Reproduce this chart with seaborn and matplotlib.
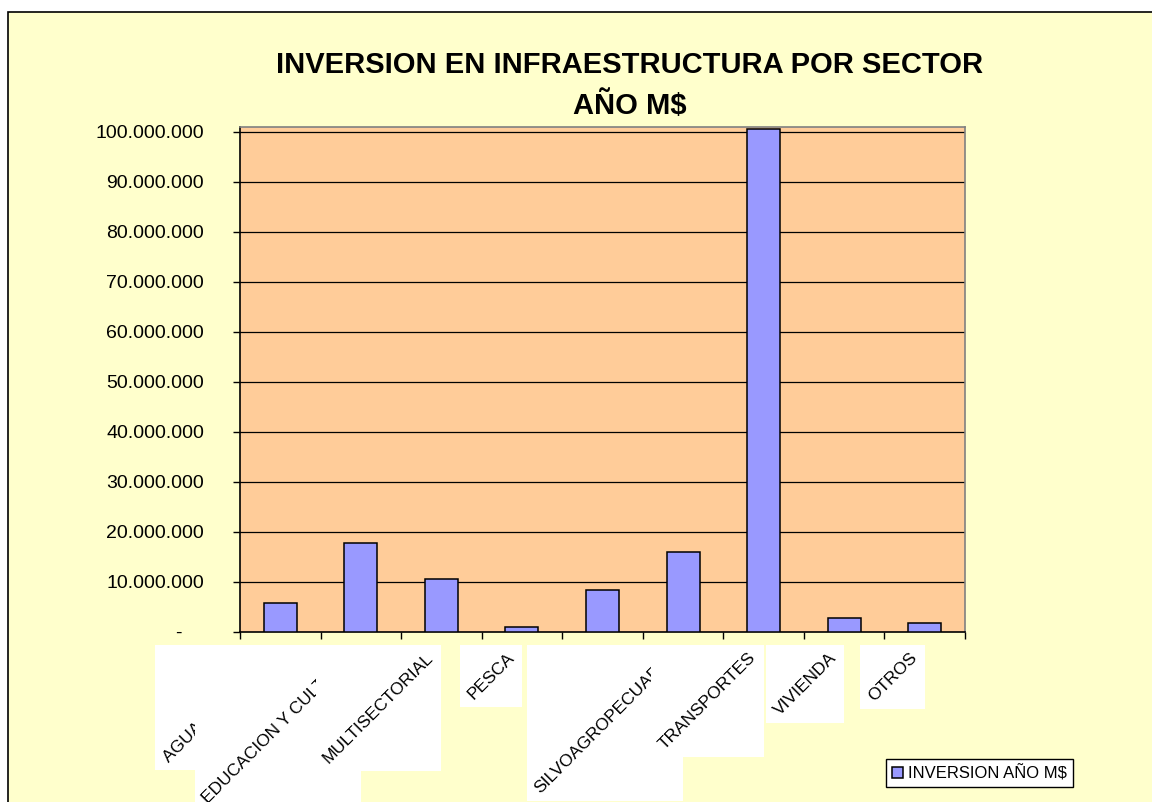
import numpy as np
import pandas as pd
import matplotlib
matplotlib.use('Agg')
import matplotlib.pyplot as plt
import seaborn as sns
from matplotlib.patches import Rectangle
from matplotlib.ticker import FuncFormatter
from matplotlib.transforms import IdentityTransform

# datos (M$)
sectores = ['AGUA POTABLE Y', 'EDUCACION Y CULTURA', 'MULTISECTORIAL', 'PESCA', '',
            'SILVOAGROPECUARIO', 'TRANSPORTES', 'VIVIENDA', 'OTROS']
inversion = [5800000, 17900000, 10600000, 1100000, 8400000,
             16100000, 100600000, 2900000, 1800000]
y_ticks = list(range(0, 100000001, 10000000))
serie = 'INVERSION AÑO M$'

df = pd.DataFrame({'sector': sectores, 'inversion': inversion})

sns.set_style('white')
plt.rcParams['font.family'] = ['Liberation Sans', 'DejaVu Sans']
plt.rcParams['text.color'] = 'black'
plt.rcParams['xtick.color'] = 'black'
plt.rcParams['ytick.color'] = 'black'
plt.rcParams['axes.labelcolor'] = 'black'

fig = plt.figure(figsize=(11.52, 8.02), dpi=100)
fig.patch.set_facecolor('white')
# fondo amarillo del area del grafico
fig.patches.append(Rectangle((8 / 1152, -0.02), 1.1, 1 - 12 / 802 + 0.02,
                             transform=fig.transFigure, facecolor='#FFFFCC',
                             edgecolor='black', linewidth=1.2, zorder=-5))

ax = fig.add_axes([240 / 1152, 1 - 632 / 802, 725 / 1152, 505 / 802])
ax.set_facecolor('#FFCC99')

sns.barplot(data=df, x='sector', y='inversion', order=sectores, ax=ax,
            color='#9999FF', saturation=1, width=0.41, edgecolor='black',
            linewidth=1.1, label=serie, zorder=3)

ax.set_ylim(0, 101000000)
ax.set_xlim(-0.5, len(sectores) - 0.5)
ax.set_yticks(y_ticks)
ax.yaxis.set_major_formatter(FuncFormatter(
    lambda v, p: f'{v:,.0f}'.replace(',', '.') if v else '-    '))
ax.set_xticks(np.arange(-0.5, len(sectores), 1))
ax.set_xticklabels([])
ax.set_xlabel('')
ax.set_ylabel('')
ax.tick_params(axis='y', direction='out', length=5, width=1, color='black',
               labelsize=14, pad=21, left=True, labelcolor='black')
ax.tick_params(axis='x', direction='out', length=5, width=1, color='black',
               bottom=True)
for v in y_ticks[1:]:
    ax.axhline(v, color='black', linewidth=0.9, zorder=1)
ax.spines['left'].set_color('black')
ax.spines['bottom'].set_color('black')
ax.spines['top'].set_color('#808080')
ax.spines['right'].set_color('#808080')
for s in ax.spines.values():
    s.set_linewidth(1.2)

# etiquetas de sector giradas con su recuadro blanco
etiquetas = []
for i, nombre in enumerate(sectores):
    t = ax.annotate(nombre, xy=(i, 0), xycoords=('data', 'axes fraction'),
                    xytext=(-5, -18), textcoords='offset pixels', rotation=45,
                    ha='right', va='top', fontsize=12.5, color='black',
                    annotation_clip=False, zorder=11 + 2 * i)
    etiquetas.append(t)

fig.canvas.draw()
r = fig.canvas.get_renderer()
pad = 5
for i, t in enumerate(etiquetas):
    if not t.get_text():
        continue
    bb = t.get_window_extent(r)
    ax.add_artist(Rectangle((bb.x0 - pad, bb.y0 - pad), bb.width + 2 * pad,
                            bb.height + 2 * pad, transform=IdentityTransform(),
                            facecolor='white', edgecolor='none',
                            clip_on=False, zorder=10 + 2 * i))

fig.text(630 / 1152, 1 - 73 / 802, 'INVERSION EN INFRAESTRUCTURA POR SECTOR',
         ha='center', va='baseline', fontsize=21, fontweight='bold', color='black')
fig.text(630 / 1152, 1 - 114 / 802, 'AÑO M$',
         ha='center', va='baseline', fontsize=21, fontweight='bold', color='black')

leg = ax.legend(loc='center', bbox_to_anchor=(979.5 / 1152, 1 - 773 / 802),
                bbox_transform=fig.transFigure, fontsize=12, frameon=True,
                fancybox=False, edgecolor='black', facecolor='white',
                framealpha=1, handlelength=0.7, handleheight=0.7,
                handletextpad=0.3, borderpad=0.35, labelcolor='black')
leg.get_frame().set_linewidth(1.0)

fig.savefig('out.png', dpi=100)
